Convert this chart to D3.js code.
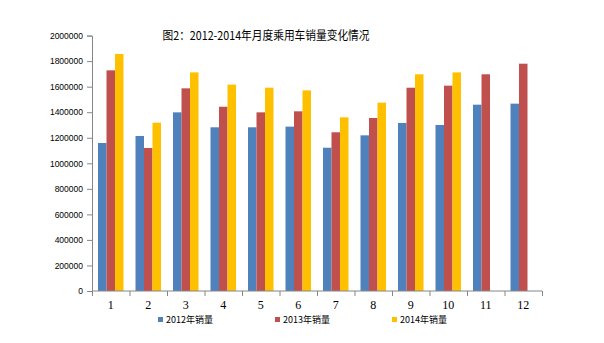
<!DOCTYPE html>
<html>
<head>
<meta charset="utf-8">
<script src="https://cdn.jsdelivr.net/npm/d3@7"></script>
<style>
  body { margin: 0; background: #fff; }
  svg { display: block; }
</style>
</head>
<body>
<div id="chart"></div>
<script>
// monthly passenger car sales
const months = ["1", "2", "3", "4", "5", "6", "7", "8", "9", "10", "11", "12"];
const seriesNames = ["2012年销量", "2013年销量", "2014年销量"];
const sales2012 = [1159000, 1214000, 1399000, 1282000, 1282000, 1287000, 1122000, 1219000, 1316000, 1300000, 1459000, 1467000];
const sales2013 = [1728000, 1120000, 1587000, 1443000, 1399000, 1407000, 1243000, 1355000, 1592000, 1608000, 1697000, 1780000];
const sales2014 = [1856000, 1318000, 1712000, 1616000, 1592000, 1571000, 1360000, 1475000, 1697000, 1712000, null, null];
const yTicks = [0, 200000, 400000, 600000, 800000, 1000000, 1200000, 1400000, 1600000, 1800000, 2000000];
const colors = ["#4F81BD", "#C0504D", "#FFC000"];

function main() {
  const width = 604, height = 343;
  const series = [sales2012, sales2013, sales2014];

  const svg = d3.select("#chart")
    .append("svg")
    .attr("width", width)
    .attr("height", height);

  const x = d3.scaleBand().domain(months).range([92, 542]).paddingInner(0).paddingOuter(0);
  const inner = d3.scaleBand().domain(d3.range(3)).range([x.bandwidth() * 0.16, x.bandwidth() * 0.84]);
  const y = d3.scaleLinear().domain([0, 2000000]).range([291, 35.6]);

  // title
  svg.append("text")
    .attr("x", 266)
    .attr("y", 40)
    .attr("text-anchor", "middle")
    .attr("textLength", 207)
    .attr("lengthAdjust", "spacingAndGlyphs")
    .style("font-family", "'Noto Sans CJK SC', sans-serif")
    .style("font-size", "12px")
    .style("fill", "#000")
    .text("图2：2012-2014年月度乘用车销量变化情况");

  // bars
  const groups = svg.selectAll(".month")
    .data(months)
    .enter()
    .append("g")
    .attr("class", "month")
    .attr("transform", (d) => `translate(${x(d)},0)`);

  groups.selectAll("rect")
    .data((d, i) => series.map((s, k) => ({ k: k, v: s[i] })).filter((e) => e.v != null))
    .enter()
    .append("rect")
    .attr("x", (d) => inner(d.k))
    .attr("width", inner.bandwidth())
    .attr("y", (d) => y(d.v))
    .attr("height", (d) => y(0) - y(d.v))
    .attr("fill", (d) => colors[d.k]);

  // y axis
  const yAxis = svg.append("g")
    .attr("transform", "translate(92,0)")
    .call(d3.axisLeft(y).tickValues(yTicks).tickSize(5).tickPadding(4).tickFormat(d3.format("d")));
  yAxis.select(".domain").attr("stroke", "#868686");
  yAxis.selectAll(".tick line").attr("stroke", "#868686");
  yAxis.selectAll("text")
    .style("font-family", "Arial, 'Liberation Sans', sans-serif")
    .style("font-size", "8.5px")
    .attr("fill", "#000");

  // x axis with ticks at band edges
  const xAxis = svg.append("g")
    .attr("transform", "translate(0,291)");
  xAxis.append("line")
    .attr("x1", 92).attr("x2", 542)
    .attr("stroke", "#868686");
  xAxis.selectAll(".edge")
    .data(months.concat(["end"]))
    .enter()
    .append("line")
    .attr("class", "edge")
    .attr("x1", (d, i) => (i < months.length ? x(d) : x.range()[1]) + 0.5)
    .attr("x2", (d, i) => (i < months.length ? x(d) : x.range()[1]) + 0.5)
    .attr("y1", 0).attr("y2", 5)
    .attr("stroke", "#868686");
  xAxis.selectAll(".lbl")
    .data(months)
    .enter()
    .append("text")
    .attr("class", "lbl")
    .attr("x", (d) => x(d) + x.bandwidth() / 2)
    .attr("y", 18)
    .attr("text-anchor", "middle")
    .style("font-family", "'Liberation Serif', serif")
    .style("font-size", "12px")
    .text((d) => d);

  // legend
  const legend = svg.selectAll(".legend")
    .data(seriesNames)
    .enter()
    .append("g")
    .attr("class", "legend")
    .attr("transform", (d, i) => `translate(${158 + i * 117},322)`);
  legend.append("rect")
    .attr("y", -5)
    .attr("width", 5)
    .attr("height", 5)
    .attr("fill", (d, i) => colors[i]);
  legend.append("text")
    .attr("x", 8)
    .attr("y", 0.5)
    .style("font-family", "'Noto Sans CJK SC', sans-serif")
    .style("font-size", "9px")
    .text((d) => d);
}

main();
</script>
</body>
</html>
